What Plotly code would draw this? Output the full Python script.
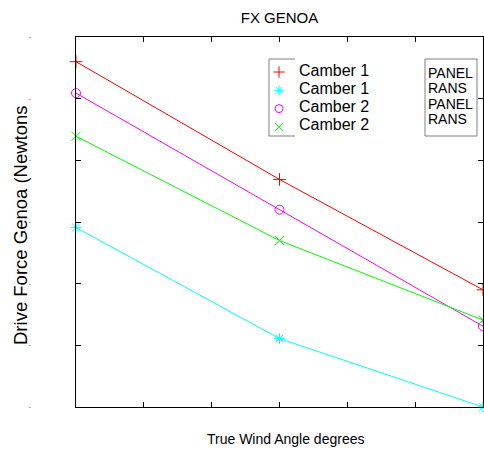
import plotly.graph_objects as go

# True wind angle (degrees) at which each configuration was evaluated
twa = [30, 45, 60]

# Drive force on the genoa (N) for each camber / solver combination
camber1_panel = [560, 369, 190]
camber1_rans = [291, 111, 0]
camber2_panel = [509, 320, 131]
camber2_rans = [439, 270, 141]

series_names = ["Camber 1", "Camber 1", "Camber 2", "Camber 2"]
solver_labels = ["PANEL", "RANS", "PANEL", "RANS"]

x_ticks = [30, 35, 40, 45, 50, 55, 60]
y_ticks = [0, 100, 200, 300, 400, 500, 600]

series = [
    (camber1_panel, "#ff0000", "cross-thin-open"),
    (camber1_rans, "#00ffff", "asterisk-open"),
    (camber2_panel, "#ff00ff", "circle-open"),
    (camber2_rans, "#00ff00", "x-thin-open"),
]

W, H = 484, 453
ML, MR, MT, MB = 76, 1, 37, 46
PW, PH = W - ML - MR, H - MT - MB


def px(x):
    """pixel column -> paper x"""
    return (x - ML) / PW


def py(y):
    """pixel row -> paper y"""
    return (H - MB - y) / PH


font = "Liberation Sans, Arial, sans-serif"

fig = go.Figure()

for (vals, color, symbol), name in zip(series, series_names):
    fig.add_trace(go.Scatter(
        x=twa, y=vals, mode="lines+markers", name=name, showlegend=False,
        line=dict(color=color, width=1),
        marker=dict(symbol=symbol, size=9, color=color,
                    line=dict(color=color, width=1)),
        cliponaxis=False,
    ))

# legend block: keys drawn on an overlay axis spanning the plot area
row_y = [70, 88.3, 106.6, 124.9]
key_x = 279
text_x = 297
fig.add_trace(go.Scatter(
    x=[px(key_x)] * len(series), y=[py(r + 2) for r in row_y],
    xaxis="x2", yaxis="y2", mode="markers", showlegend=False,
    hoverinfo="skip",
    marker=dict(symbol=[s[2] for s in series], size=8,
                color=[s[1] for s in series],
                line=dict(color=[s[1] for s in series], width=1)),
))
for name, r in zip(series_names, row_y):
    fig.add_annotation(
        text=name, xref="paper", yref="paper", x=px(text_x), y=py(r),
        xanchor="left", yanchor="middle", showarrow=False,
        font=dict(size=16, color="black", family=font),
    )

fig.update_layout(
    width=W, height=H,
    margin=dict(l=ML, r=MR, t=MT, b=MB),
    paper_bgcolor="white", plot_bgcolor="white",
    font=dict(family=font, color="black"),
    title=dict(text="FX GENOA", x=0.5, xref="paper", xanchor="center",
               y=1 - 18 / H, yanchor="middle",
               font=dict(size=15, color="black")),
    showlegend=False,
    xaxis=dict(
        range=[30, 60], tickvals=x_ticks, showticklabels=False,
        ticks="inside", ticklen=5, tickcolor="black",
        showline=True, linecolor="black", linewidth=1, mirror="ticks",
        showgrid=False, zeroline=False,
    ),
    yaxis=dict(
        range=[0, 600], tickvals=y_ticks, ticktext=["-"] * len(y_ticks),
        tickfont=dict(size=6, color="black"), ticklabelstandoff=43,
        ticks="inside", ticklen=5, tickcolor="black",
        showline=True, linecolor="black", linewidth=1, mirror="ticks",
        showgrid=False, zeroline=False,
    ),
    xaxis2=dict(overlaying="x", range=[0, 1], visible=False, fixedrange=True),
    yaxis2=dict(overlaying="y", range=[0, 1], visible=False, fixedrange=True),
)

# axis titles
fig.add_annotation(
    text="True Wind Angle degrees", xref="paper", yref="paper",
    x=px(285), y=py(439), xanchor="center", yanchor="middle",
    showarrow=False, font=dict(size=14, color="black", family=font),
)
fig.add_annotation(
    text="Drive Force Genoa (Newtons", xref="paper", yref="paper",
    x=px(21), y=py(225), xanchor="center", yanchor="middle",
    textangle=-90, showarrow=False,
    font=dict(size=18.5, color="black", family=font),
)

# legend frame: left edge plus short top and bottom strokes
frame = dict(type="line", xref="paper", yref="paper",
             line=dict(color="#808080", width=1))
fig.add_shape(x0=px(269), x1=px(269), y0=py(136), y1=py(59), **frame)
fig.add_shape(x0=px(269), x1=px(295), y0=py(59), y1=py(59), **frame)
fig.add_shape(x0=px(269), x1=px(295), y0=py(136), y1=py(136), **frame)

# solver labels box, one tightly spaced line per label
fig.add_shape(type="rect", xref="paper", yref="paper",
              x0=px(425), x1=px(477), y0=py(136), y1=py(59),
              line=dict(color="#808080", width=1), fillcolor="white")
solver_rows = [72.5, 88.1, 103.7, 119.3]
for label, r in zip(solver_labels, solver_rows):
    fig.add_annotation(
        text=label, xref="paper", yref="paper", x=px(426), y=py(r),
        xanchor="left", yanchor="middle", showarrow=False,
        font=dict(size=14, color="black", family=font),
    )

fig.write_html("out.html")
